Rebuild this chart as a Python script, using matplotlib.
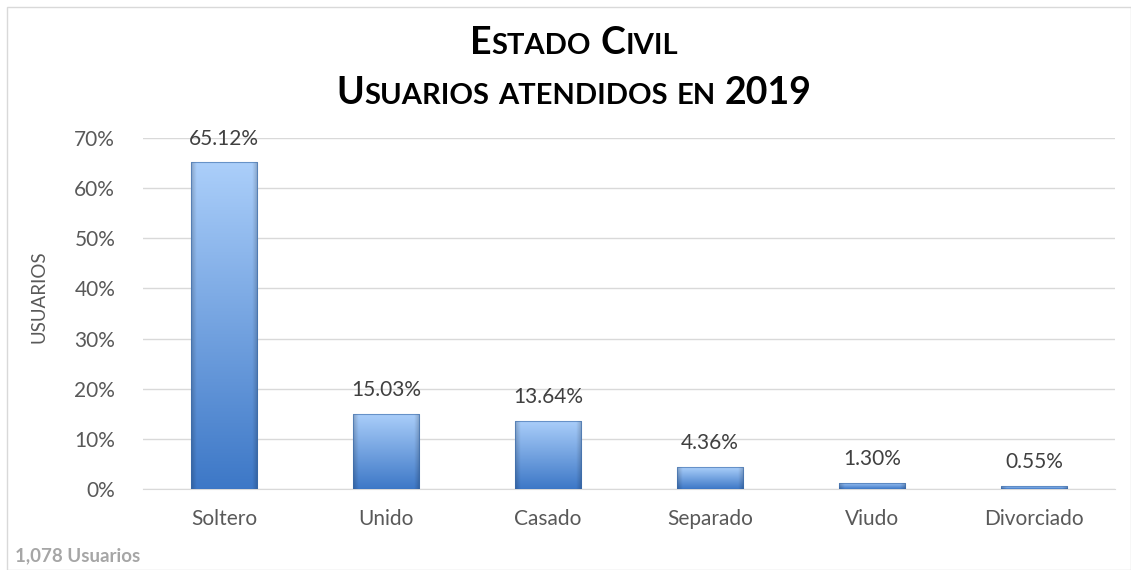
import matplotlib.pyplot as plt
import matplotlib.patches as mpatches
import numpy as np
from matplotlib.ticker import PercentFormatter

categorias = ['Soltero', 'Unido', 'Casado', 'Separado', 'Viudo', 'Divorciado']
porcentajes = [65.12, 15.03, 13.64, 4.36, 1.30, 0.55]
etiquetas = ['65.12%', '15.03%', '13.64%', '4.36%', '1.30%', '0.55%']
total_usuarios = '1,078 Usuarios'

plt.rcParams['font.family'] = ['Lato', 'DejaVu Sans']

fig = plt.figure(figsize=(11.31, 5.70), dpi=100)
ax = fig.add_axes([0.1264, 0.142, 0.8596, 0.616])

# marco exterior del grafico
fig.patches.append(mpatches.Rectangle((7/1131, 0), 1 - 7/1131, 1 - 7/570,
                                      transform=fig.transFigure, fill=False,
                                      edgecolor='#d9d9d9', lw=1))

x = np.arange(len(categorias))
ancho = 0.41
barras = ax.bar(x, porcentajes, width=ancho, color='none', edgecolor='none', zorder=3)

# degradado de cada barra
arriba = np.array([0.67, 0.81, 0.98])
abajo = np.array([0.24, 0.47, 0.78])
for b in barras:
    n, m = 100, 40
    t = np.linspace(0, 1, n)[:, None, None]
    img = arriba * (1 - t) + abajo * t
    img = np.repeat(img, m, axis=1)
    s = np.linspace(-1, 1, m)
    borde = 1 - 0.18 * np.clip((np.abs(s) - 0.85) / 0.15, 0, 1)
    img = img * borde[None, :, None]
    x0 = b.get_x()
    im = ax.imshow(img, extent=(x0, x0 + b.get_width(), 0, b.get_height()),
                   aspect='auto', zorder=3, interpolation='bilinear')
    im.set_clip_path(b)
    ax.add_patch(mpatches.Rectangle((x0, 0), b.get_width(), b.get_height(),
                                    fill=False, edgecolor='#3a6aa8', lw=0.8,
                                    alpha=0.6, zorder=4))

for xi, v, lab in zip(x, porcentajes, etiquetas):
    ax.annotate(lab, (xi, v), xytext=(0, 10), textcoords='offset points',
                ha='center', va='bottom', fontsize=15, color='#404040', zorder=5)

ax.set_xlim(-0.5, len(categorias) - 0.5)
ax.set_ylim(0, 70)
ax.set_yticks(np.arange(0, 71, 10))
ax.yaxis.set_major_formatter(PercentFormatter(decimals=0))
ax.set_xticks(x)
ax.set_xticklabels(categorias)
ax.tick_params(axis='both', length=0, labelsize=15, labelcolor='#595959')
ax.tick_params(axis='x', pad=14)
ax.tick_params(axis='y', pad=20)
ax.grid(axis='y', color='#d9d9d9', lw=1, zorder=0)
ax.set_axisbelow(True)
for lado in ['top', 'right', 'left']:
    ax.spines[lado].set_visible(False)
ax.spines['bottom'].set_color('#d9d9d9')

fig.text(39/1131, 1 - 297/570, 'USUARIOS', rotation=90, ha='center', va='center',
         fontsize=13.5, color='#595959')
fig.text(15/1131, 1 - 556/570, total_usuarios, ha='left', va='center',
         fontsize=13.5, color='#a6a6a6', fontweight='bold')


# titulo en versalitas
def versalitas(y, partes, grande=27, chica=21):
    r = fig.canvas.get_renderer()
    textos = []
    for trozo, es_grande in partes:
        tt = fig.text(0, y, trozo, fontsize=grande if es_grande else chica,
                      fontweight='bold', color='black', ha='left', va='baseline')
        textos.append(tt)
    anchos = [tt.get_window_extent(r).width for tt in textos]
    espacio = 9
    total = sum(a if p[0] != ' ' else espacio for a, p in zip(anchos, partes))
    pos = 574 - total / 2
    for tt, a, p in zip(textos, anchos, partes):
        if p[0] == ' ':
            tt.set_visible(False)
            pos += espacio
            continue
        tt.set_x(pos / 1131)
        pos += a


versalitas(1 - 54/570, [('E', True), ('STADO', False), (' ', False),
                        ('C', True), ('IVIL', False)])
versalitas(1 - 104/570, [('U', True), ('SUARIOS', False), (' ', False),
                         ('ATENDIDOS', False), (' ', False), ('EN', False),
                         (' ', False), ('2019', True)])

fig.savefig('out.png', dpi=100)
